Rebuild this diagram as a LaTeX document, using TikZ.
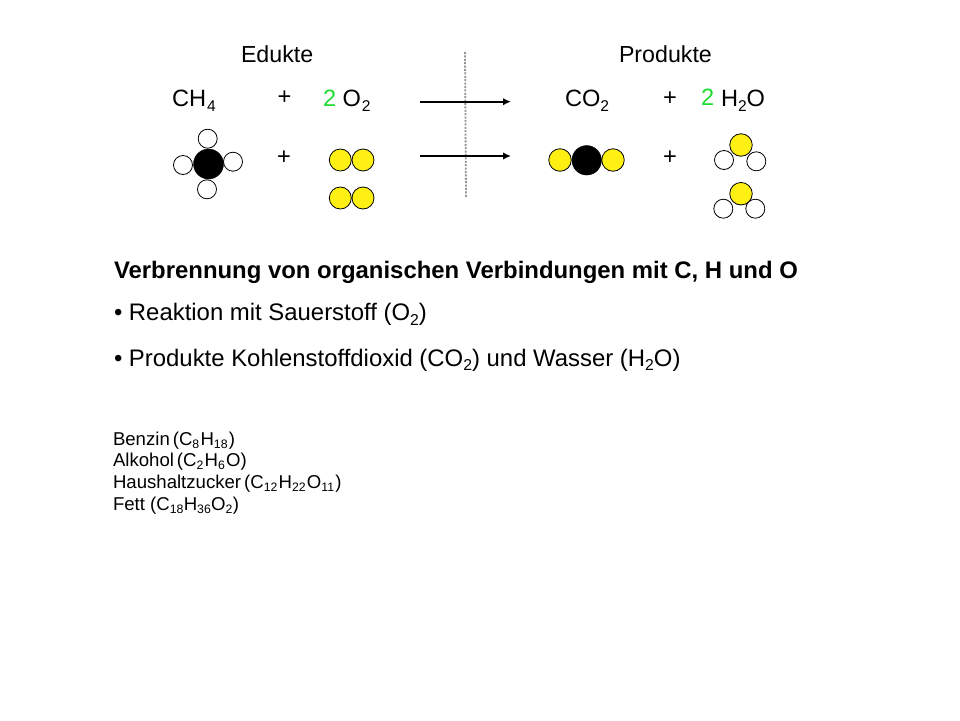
\documentclass[tikz,border=0pt]{standalone}
\usepackage{graphicx}
\usepackage{fontspec}
\setmainfont{Liberation Sans}
\definecolor{molyellow}{RGB}{255,240,20}
\definecolor{cgreen}{RGB}{30,220,50}
\newcommand{\dn}[1]{\raisebox{-0.2em}{\scalebox{0.66}{#1}}}
\newcommand{\dnk}[1]{\dn{#1}\kern 1.2pt}
\newcommand{\dnf}[1]{\dn{#1}\kern 0.3pt}
\newcommand{\tsp}{\kern 3pt}
\tikzset{
  txt/.style={inner sep=0pt,outer sep=0pt,anchor=base west,font=\fontsize{23.6}{27}\selectfont},
  head/.style={txt,font=\fontsize{23.2}{27}\selectfont},
  body/.style={txt,font=\fontsize{23.9}{28}\selectfont},
  small/.style={txt,font=\fontsize{18.6}{22}\selectfont},
  plus/.style={inner sep=0pt,outer sep=0pt,anchor=center,font=\fontsize{23.6}{27}\selectfont},
  hyd/.style={circle,draw=black,line width=0.8pt,fill=white,inner sep=0pt,minimum size=19pt},
  carb/.style={circle,draw=black,fill=black,inner sep=0pt,minimum size=#1},
  oxy/.style={circle,draw=black,line width=0.8pt,fill=molyellow,inner sep=0pt,minimum size=#1},
  reactarrow/.style={-{Latex[length=8pt,width=7.5pt]},line width=1.9pt},
  divider/.style={gray!85,line width=1.8pt,dash pattern=on 2pt off 1.4pt}
}
\usetikzlibrary{arrows.meta}
\begin{document}
\begin{tikzpicture}[x=1pt,y=-1pt]
\useasboundingbox (0,0) rectangle (960,720);
% headings
\node[head] (edukte) at (241,62.5) {Edukte};
\node[head] (produkte) at (619,62.5) {Produkte};
% formula row
\node[txt] (ch4) at (172,106.5) {CH\kern 1pt\dn{4}};
\node[plus] (p1) at (284.5,98) {+};
\node[txt,text=cgreen] (two1) at (323,106.5) {2};
\node[txt] (o2) at (342.5,106.5) {O\kern 1pt\dn{2}};
\node[txt] (co2) at (565,106.5) {CO\dn{2}};
\node[plus] (p2) at (670,99) {+};
\node[txt,text=cgreen] (two2) at (701,105.5) {2};
\node[txt] (h2o) at (721,106.5) {H\dn{2}O};
% divider and arrows
\coordinate (dtop) at (465,52);
\coordinate (dbot) at (466,198);
\draw[divider] (dtop) -- (dbot);
\coordinate (a1s) at (420,101.7);
\coordinate (a1e) at (511,101.7);
\coordinate (a2s) at (420,156);
\coordinate (a2e) at (511,156);
\draw[reactarrow] (a1s) -- (a1e);
\draw[reactarrow] (a2s) -- (a2e);
% CH4
\node[hyd] (h1) at (207.7,138.7) {};
\node[hyd] (h2) at (183,165) {};
\node[hyd] (h3) at (233,161.7) {};
\node[hyd] (h4) at (207,189.3) {};
\node[carb=30pt] (c1) at (208.5,164) {};
\node[plus] (p3) at (284,158) {+};
% O2
\node[oxy=22pt] (o11) at (340.3,160) {};
\node[oxy=22pt] (o12) at (363,160) {};
\node[oxy=22pt] (o21) at (340.3,198) {};
\node[oxy=22pt] (o22) at (363,198) {};
% CO2
\node[oxy=22.5pt] (o31) at (560,160) {};
\node[oxy=22.5pt] (o32) at (613,160) {};
\node[carb=29.5pt] (c2) at (586.7,160.3) {};
\node[plus] (p4) at (670,158) {+};
% H2O
\node[hyd] (h5) at (724,160) {};
\node[hyd] (h6) at (756.3,161.3) {};
\node[oxy=22.5pt] (o41) at (741,145) {};
\node[hyd] (h7) at (723.3,208.7) {};
\node[hyd] (h8) at (755.3,208.7) {};
\node[oxy=22.5pt] (o42) at (741,193.7) {};
% text
\node[body,font=\fontsize{23.9}{28}\selectfont\bfseries] (t1) at (114,278) {Verbrennung von organischen Verbindungen mit C, H und O};
\node[body] (t2) at (114,320.5) {• Reaktion mit Sauerstoff (O\dn{2})};
\node[body] (t3) at (114,366) {• Produkte Kohlenstoffdioxid (CO\dn{2}) und Wasser (H\dn{2}O)};
\node[small] (l1) at (113,445) {Benzin\tsp(C\dnk{8}H\dnk{18})};
\node[small] (l2) at (113,466) {Alkohol\tsp(C\dnk{2}H\dnk{6}O)};
\node[small] (l3) at (113,488) {Haushaltzucker\tsp(C\dnk{12}H\dnk{22}O\dnk{11})};
\node[small] (l4) at (113,510) {Fett (C\dnf{18}H\dnf{36}O\dnf{2})};
\end{tikzpicture}
\end{document}
